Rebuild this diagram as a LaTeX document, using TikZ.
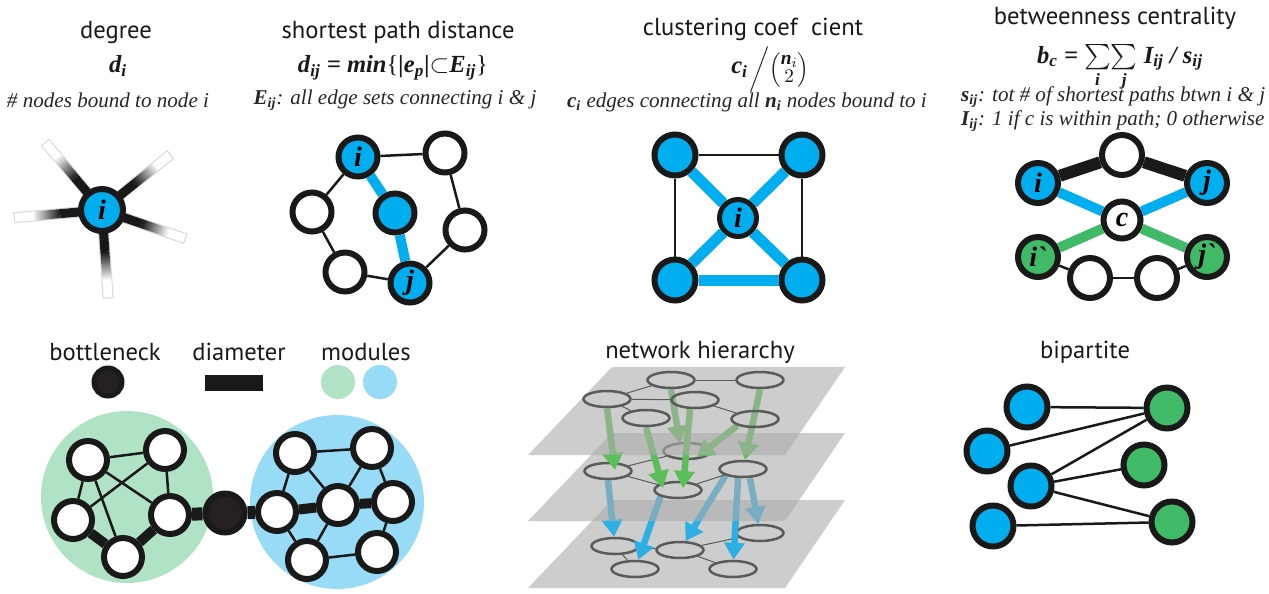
\documentclass[tikz,border=0pt]{standalone}
\usepackage{amsmath}
\usepackage{fontspec}
\setmainfont{Liberation Serif}
\setsansfont{PT Sans}
\usetikzlibrary{arrows.meta,calc,shapes.geometric}

\definecolor{nodeblue}{RGB}{0,174,239}
\definecolor{nodegreen}{RGB}{64,186,102}
\definecolor{modgreen}{RGB}{176,227,197}
\definecolor{modblue}{RGB}{151,219,246}
\definecolor{neckgray}{RGB}{37,33,34}
\definecolor{planegray}{RGB}{172,172,172}
\definecolor{ellgray}{RGB}{90,90,90}
\definecolor{arrgreen}{RGB}{92,190,88}
\definecolor{arrblue}{RGB}{45,175,228}

\pgfdeclarelayer{lowplane}
\pgfdeclarelayer{lownet}
\pgfdeclarelayer{midplane}
\pgfdeclarelayer{midnet}
\pgfdeclarelayer{topplane}
\pgfdeclarelayer{topnet}
\pgfsetlayers{main,lowplane,lownet,midplane,midnet,topplane,topnet}

\tikzstyle{vertex}=[circle,draw=black!90,line width=0.12cm,minimum size=0.8cm,inner sep=0pt,font=\fontsize{16}{16}\selectfont\bfseries\itshape]
\tikzstyle{bluevertex}=[vertex,fill=nodeblue]
\tikzstyle{greenvertex}=[vertex,fill=nodegreen]
\tikzstyle{whitevertex}=[vertex,fill=white]
\tikzstyle{plainedge}=[draw=black!90,line width=0.05cm]
\tikzstyle{blueedge}=[draw=nodeblue,line width=0.2cm]
\tikzstyle{greenedge}=[draw=nodegreen,line width=0.2cm]
\tikzstyle{heavyedge}=[draw=black!90,line width=0.22cm]
\tikzstyle{title}=[font=\sffamily\fontsize{14}{14}\selectfont,text=black!90]
\tikzstyle{formula}=[font=\fontsize{14}{16}\selectfont\bfseries\itshape,text=black!90]
\tikzstyle{caption}=[font=\fontsize{12}{14}\selectfont\itshape,text=black!85]
\tikzstyle{spokebox}=[draw=black!15,line width=0.02cm,fill=white]
\tikzstyle{layervertex}=[ellipse,draw=ellgray,line width=0.05cm,minimum width=0.94cm,minimum height=0.32cm,inner sep=0pt]
\tikzstyle{layeredge}=[draw=ellgray,line width=0.02cm]
\tikzstyle{greenarrow}=[draw=arrgreen,line width=0.13cm,-{Triangle[width=0.4cm,length=0.34cm]}]
\tikzstyle{bluearrow}=[draw=arrblue,line width=0.13cm,-{Triangle[width=0.4cm,length=0.34cm]}]
\tikzstyle{plane}=[fill=planegray,opacity=0.6]

\begin{document}
\begin{tikzpicture}[x=0.02cm,y=-0.02cm]

    \path[use as bounding box,fill=white] (0,0) rectangle (1269,593);

    % degree
    \node[title] (tdeg) at (116,32) {degree};
    \node[formula] (fdeg) at (118,66) {d\textsubscript{i}};
    \node[caption] (cdeg) at (108,100) {\# nodes bound to node i};
    \coordinate (dc) at (102,210);
    \foreach \a in {130,39,185,-19,-86}
    {
        \begin{scope}[transform canvas={shift={(dc)},rotate=\a}]
            \draw[spokebox] (0,-5) rectangle (88,5);
            \fill[black!90] (0,-4.5) rectangle (42,4.5);
            \shade[left color=black!90,right color=white] (42,-4.5) rectangle (70,4.5);
        \end{scope}
    }
    \node[bluevertex,minimum size=0.84cm] (di) at (dc) {i};

    % shortest path distance
    \node[title] (tsp) at (398,32) {shortest path distance};
    \node[formula] (fsp) at (393,68) {d\textsubscript{ij} = min{\mdseries\upshape\{}|e\textsubscript{p}|$\subset$E\textsubscript{ij}{\mdseries\upshape\}}};
    \node[caption] (csp) at (395,100) {\textbf{E\textsubscript{ij}}: all edge sets connecting i \& j};
    \foreach \pos/\name/\label in {{(358,157)/si/i}, {(395,213)/sm/}, {(410,283)/sj/j}}
        \node[bluevertex,minimum size=0.78cm] (\name) at \pos {\label};
    \foreach \pos/\name in {{(445,153)/sa}, {(312,212)/sb}, {(465,230)/sc}, {(345,272)/sd}}
        \node[whitevertex,minimum size=0.78cm] (\name) at \pos {};
    \foreach \source/\dest in {si/sa, si/sb, sb/sd, sd/sj, sj/sc, sc/sa}
        \path[plainedge] (\source) -- (\dest);
    \foreach \source/\dest in {si/sm, sm/sj}
        \path[blueedge] (\source) -- (\dest);

    % clustering coefficient
    \node[title,inner sep=1pt] (tcl) at (753,29) {clustering coef\hspace{0.55em}cient};
    \node[formula,anchor=east,inner sep=1pt] (fcl) at (750,70) {c\textsubscript{i}};
    \node[formula,anchor=west,inner sep=0pt] (fclb) at (749,70) {\fontsize{11}{10}\selectfont$\bigg/\!\left(\begin{array}{@{}c@{}}\textbf{\textit{n}}_{i}\\ 2\end{array}\right)$};
    \node[caption] (ccl) at (747,102) {\textbf{c\textsubscript{i}} edges connecting all \textbf{n\textsubscript{i}} nodes bound to i};
    \foreach \pos/\name in {{(675,155)/ca}, {(802,155)/cb}, {(675,280)/cc}, {(802,280)/cd}}
        \node[bluevertex,minimum size=0.82cm] (\name) at \pos {};
    \node[bluevertex,minimum size=0.74cm,line width=0.1cm] (ci) at (738,218) {i};
    \foreach \source/\dest in {ca/cb, ca/cc, cb/cd}
        \path[plainedge] (\source) -- (\dest);
    \foreach \source/\dest in {cc/cd, ca/ci, cb/ci, cc/ci, cd/ci}
        \path[blueedge,line width=0.22cm] (\source) -- (\dest);

    % betweenness centrality
    \node[title] (tbc) at (1115,18) {betweenness centrality};
    \node[formula] (fbc) at (1120,68) {b\textsubscript{c} = $\sum\limits_{\textbf{\textit{i}}}\!\sum\limits_{\textbf{\textit{j}}}$ I\textsubscript{ij} / s\textsubscript{ij}};
    \node[caption,anchor=west] (cbc1) at (955,97) {\textbf{s\textsubscript{ij}}: tot \# of shortest paths btwn i \& j};
    \node[caption,anchor=west] (cbc2) at (955,121) {\textbf{I\textsubscript{ij}}: 1 if c is within path; 0 otherwise};
    \node[whitevertex] (btop) at (1122,155) {};
    \node[bluevertex] (bi) at (1038,183) {i};
    \node[bluevertex] (bj) at (1207,183) {j};
    \node[whitevertex,minimum size=0.74cm] (bcen) at (1122,220) {c};
    \node[greenvertex] (bi2) at (1038,257) {i\textasciigrave};
    \node[greenvertex] (bj2) at (1207,257) {j\textasciigrave};
    \node[whitevertex] (bbl) at (1090,278) {};
    \node[whitevertex] (bbr) at (1157,278) {};
    \foreach \source/\dest in {bi/btop, btop/bj}
        \path[heavyedge,line width=0.24cm] (\source) -- (\dest);
    \foreach \source/\dest in {bi/bcen, bcen/bj}
        \path[blueedge] (\source) -- (\dest);
    \foreach \source/\dest in {bi2/bcen, bcen/bj2}
        \path[greenedge] (\source) -- (\dest);
    \foreach \source/\dest in {bi2/bbl, bbl/bbr, bbr/bj2}
        \path[plainedge] (\source) -- (\dest);

    % bottleneck, diameter, modules
    \node[title] (tneck) at (105,352) {bottleneck};
    \node[title] (tdiam) at (239,352) {diameter};
    \node[title] (tmod) at (366,352) {modules};
    \node[vertex,fill=neckgray,minimum size=0.56cm,line width=0.1cm] (kneck) at (108,382) {};
    \node[fill=black!90,minimum width=1.16cm,minimum height=0.32cm,inner sep=0pt] (kdiam) at (234,383) {};
    \node[circle,fill=modgreen,minimum size=0.68cm,inner sep=0pt] (kmodg) at (338,382) {};
    \node[circle,fill=modblue,minimum size=0.68cm,inner sep=0pt] (kmodb) at (380,382) {};
    \node[circle,fill=modgreen,minimum size=3.44cm,inner sep=0pt] (modg) at (127,497) {};
    \node[circle,fill=modblue,minimum size=3.48cm,inner sep=0pt] (modb) at (337,502) {};
    \foreach \pos/\name in {{(88,460)/mg1}, {(165,450)/mg2}, {(73,520)/mg3}, {(170,515)/mg4}, {(123,557)/mg5},
        {(277,512)/mb1}, {(295,453)/mb2}, {(372,448)/mb3}, {(338,505)/mb4}, {(393,502)/mb5}, {(307,560)/mb6}, {(377,552)/mb7}}
        \node[whitevertex,minimum size=0.76cm] (\name) at \pos {};
    \node[vertex,fill=neckgray,minimum size=0.78cm] (neck) at (225,513) {};
    \foreach \source/\dest in {mg1/mg2, mg1/mg3, mg1/mg4, mg1/mg5, mg2/mg3, mg2/mg4,
        mb2/mb3, mb2/mb1, mb2/mb4, mb3/mb4, mb3/mb5, mb1/mb6, mb4/mb6, mb6/mb7, mb7/mb5}
        \path[plainedge] (\source) -- (\dest);
    \foreach \source/\dest in {mg3/mg5, mg5/mg4, mb1/mb4, mb4/mb5}
        \path[heavyedge,line width=0.2cm] (\source) -- (\dest);
    \foreach \source/\dest in {mg4/neck, neck/mb1}
        \path[heavyedge,line width=0.26cm] (\source) -- (\dest);

    % network hierarchy
    \node[title] (thier) at (700,352) {network hierarchy};
    \foreach \y/\lay in {500/lowplane, 433/midplane, 367/topplane}
    {
        \begin{pgfonlayer}{\lay}
            \fill[plane] (612,\y) -- (845,\y) -- (785,\y+88) -- (528,\y+88) -- cycle;
        \end{pgfonlayer}
    }
    \begin{pgfonlayer}{topnet}
        \foreach \pos/\name in {{(671,380)/u1}, {(760,380)/u2}, {(607,399)/u3}, {(695,400)/u4}, {(646,418)/u5}, {(755,419)/u6}}
            \node[layervertex] (\name) at \pos {};
        \foreach \source/\dest in {u1/u3, u1/u2, u3/u4, u3/u5, u4/u6}
            \path[layeredge] (\source) -- (\dest);
    \end{pgfonlayer}
    \begin{pgfonlayer}{midnet}
        \foreach \pos/\name in {{(687,451)/v1}, {(608,471)/v2}, {(743,469)/v3}, {(678,490)/v4}}
            \node[layervertex] (\name) at \pos {};
        \foreach \source/\dest in {v2/v1, v2/v4, v4/v3}
            \path[layeredge] (\source) -- (\dest);
        \draw[greenarrow] (u3.south) -- ($(v2)+(7,-1)$);
        \draw[greenarrow] (u1.south) -- ($(v1)+(-7,-8)$);
        \draw[greenarrow] (u5.south) -- ($(v4)+(-15,-2)$);
        \draw[greenarrow] ($(u4.south)+(-5,0)$) -- ($(v4)+(5,-2)$);
        \draw[greenarrow] (u6.south west) -- ($(v1)+(10,6)$);
        \draw[greenarrow] (u2.south) -- (v3);
    \end{pgfonlayer}
    \begin{pgfonlayer}{lownet}
        \foreach \pos/\name in {{(615,546)/w1}, {(760,533)/w2}, {(680,550)/w3}, {(635,569)/w4}, {(733,569)/w5}}
            \node[layervertex] (\name) at \pos {};
        \foreach \source/\dest in {w1/w3, w1/w4, w3/w2, w3/w5}
            \path[layeredge] (\source) -- (\dest);
        \draw[bluearrow] (v2.south) -- (w1);
        \draw[bluearrow] (v4.south west) -- (w4);
        \draw[bluearrow] (v3.south west) -- (w3);
        \draw[bluearrow] ($(v3.south)+(-5,0)$) -- (w5);
        \draw[bluearrow] ($(v3.south)+(7,0)$) -- (w2);
    \end{pgfonlayer}

    % bipartite
    \node[title] (tbip) at (1085,352) {bipartite};
    \foreach \pos/\name in {{(1027,407)/pl1}, {(987,451)/pl2}, {(1031,486)/pl3}, {(993,526)/pl4}}
        \node[bluevertex,minimum size=0.82cm] (\name) at \pos {};
    \foreach \pos/\name in {{(1167,408)/pr1}, {(1144,465)/pr2}, {(1172,522)/pr3}}
        \node[greenvertex,minimum size=0.82cm] (\name) at \pos {};
    \foreach \source/\dest in {pl1/pr1, pl2/pr1, pl3/pr1, pl3/pr2, pl3/pr3, pl4/pr3}
        \path[plainedge] (\source) -- (\dest);

\end{tikzpicture}
\end{document}
